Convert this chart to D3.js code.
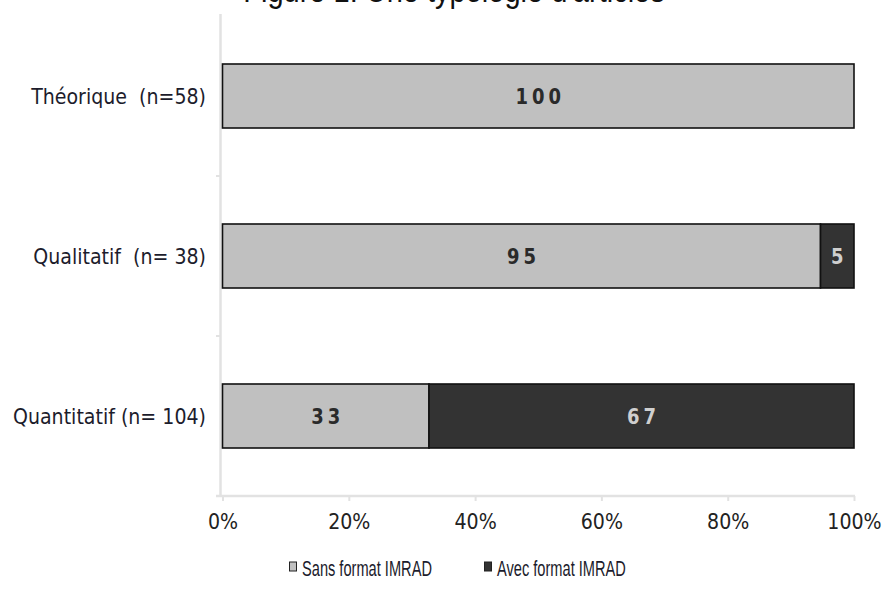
<!DOCTYPE html>
<html><head><meta charset="utf-8">
<script src="https://cdn.jsdelivr.net/npm/d3@7"></script>
<style>body{margin:0;background:#fff}svg{display:block}</style></head>
<body><svg id="c" width="888" height="597"></svg>
<script>
const title = "Figure 1: Une typologie d'articles";
const categories = ["Théorique  (n=58)", "Qualitatif  (n= 38)", "Quantitatif (n= 104)"];
const seriesNames = ["Sans format IMRAD", "Avec format IMRAD"];
const sansValues = [100, 94.7, 32.7];
const avecValues = [0, 5.3, 67.3];
const sansLabels = ["100", "95", "33"];
const avecLabels = ["", "5", "67"];
const xTicks = [0, 20, 40, 60, 80, 100];
const colors = ["#c0c0c0", "#333333"];

const svg = d3.select("#c");
const x = d3.scaleLinear().domain([0, 100]).range([222.5, 854]);
const y = d3.scaleBand().domain(categories).range([16, 496]).paddingInner(0.6).paddingOuter(0.3);
const SY = 1.15;
const font = "'DejaVu Sans', Verdana, sans-serif";

// title
svg.append("text").attr("transform", `translate(454,1.5) scale(1,1.15)`)
  .attr("text-anchor", "middle").attr("font-family", "'Liberation Sans', Arial, sans-serif")
  .attr("font-size", 29).attr("fill", "#111").text(title);

// axes lines
const axCol = "#e2e2e2";
svg.append("line").attr("x1", 220.5).attr("x2", 220.5).attr("y1", 14).attr("y2", 497)
  .attr("stroke", axCol).attr("stroke-width", 2.5);
// category boundary ticks
const step = y.step();
const bounds = categories.slice(1).map(c => y(c) - step * y.paddingInner() / 2);
svg.selectAll(".yt").data(bounds).join("line")
  .attr("x1", 216).attr("x2", 221).attr("y1", d => d).attr("y2", d => d)
  .attr("stroke", axCol).attr("stroke-width", 2);

const xAxis = svg.append("g").attr("transform", "translate(0,496)")
  .call(d3.axisBottom(x).tickValues(xTicks).tickFormat(d => d + "%").tickSize(5).tickSizeOuter(0));
xAxis.select(".domain").attr("stroke", axCol).attr("stroke-width", 2.5).attr("d", `M216,0H855`);
xAxis.selectAll(".tick line").attr("stroke", axCol).attr("stroke-width", 2);
xAxis.selectAll(".tick text").attr("y", null).attr("dy", null)
  .attr("transform", `translate(0,33) scale(1,${SY})`)
  .attr("font-family", font).attr("font-size", 19).attr("fill", "#222");

// category labels
svg.selectAll(".cl").data(categories).join("text")
  .attr("transform", d => `translate(206,${y(d) + y.bandwidth() / 2 + 7.5}) scale(1,${SY})`)
  .attr("text-anchor", "end").attr("font-family", font).attr("font-size", 19)
  .attr("fill", "#1c1c2c").style("white-space", "pre").text(d => d);

// bars
const rows = categories.map((c, i) => ({c, segs: [
  {x0: 0, x1: sansValues[i], lab: sansLabels[i], k: 0},
  {x0: sansValues[i], x1: sansValues[i] + avecValues[i], lab: avecLabels[i], k: 1}
].filter(s => s.x1 > s.x0)}));

const g = svg.selectAll(".row").data(rows).join("g");
g.selectAll("rect").data(d => d.segs.map(s => ({...s, c: d.c}))).join("rect")
  .attr("x", d => x(d.x0)).attr("width", d => x(d.x1) - x(d.x0))
  .attr("y", d => y(d.c)).attr("height", y.bandwidth())
  .attr("fill", d => colors[d.k]).attr("stroke", "#111").attr("stroke-width", 1.6);
g.selectAll("text").data(d => d.segs.map(s => ({...s, c: d.c}))).join("text")
  .attr("transform", d => `translate(${(x(d.x0) + x(d.x1)) / 2 + 2},${y(d.c) + y.bandwidth() / 2 + 8}) scale(1,${SY})`)
  .attr("text-anchor", "middle").attr("font-family", font).attr("font-size", 18)
  .attr("letter-spacing", 4).attr("font-weight", "bold")
  .attr("fill", d => d.k === 0 ? "#2a2a2a" : "#cfcfcf").text(d => d.lab);

// legend
const legX = [289, 484];
const lg = svg.selectAll(".lg").data(seriesNames).join("g")
  .attr("transform", (d, i) => `translate(${legX[i]},0)`);
lg.append("rect").attr("x", 0.5).attr("y", 562).attr("width", 7).attr("height", 9)
  .attr("fill", (d, i) => colors[i]).attr("stroke", "#222").attr("stroke-width", 1);
lg.append("text").attr("transform", `translate(13,576) scale(0.86,1.35)`)
  .attr("font-family", "'Liberation Sans', Arial, sans-serif").attr("font-size", 17)
  .attr("fill", "#1c1c2c").text(d => d);
</script></body></html>
